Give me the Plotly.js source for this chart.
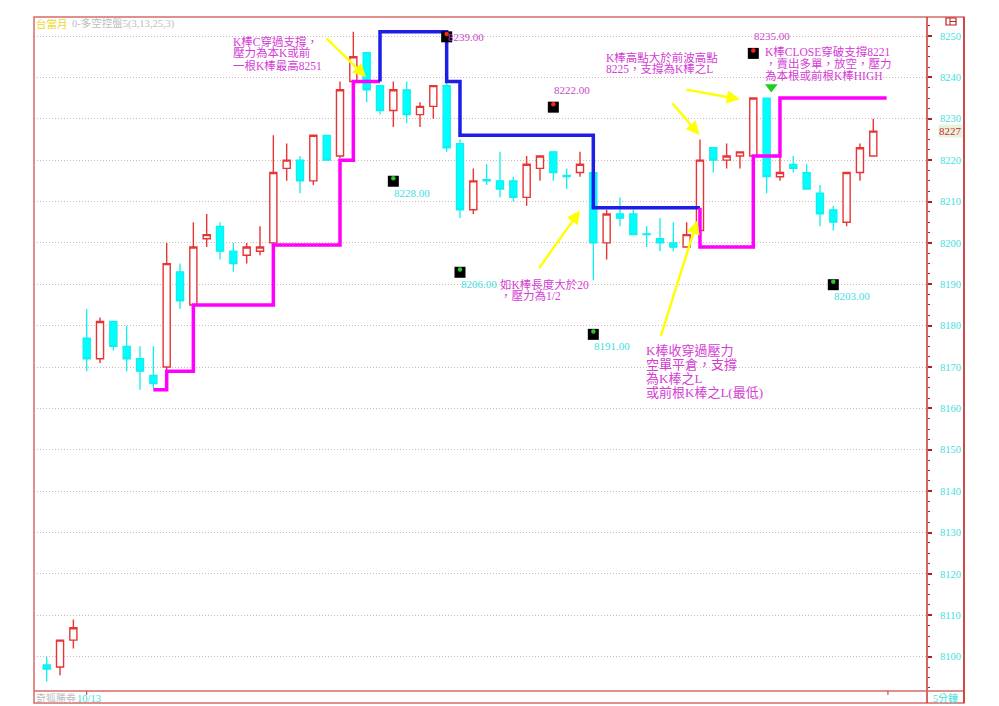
<!DOCTYPE html>
<html>
<head>
<meta charset="utf-8">
<script src="https://cdn.plot.ly/plotly-3.0.1.min.js"></script>
<style>html,body{margin:0;padding:0;background:#fff;}#chart{width:999px;height:706px;}</style>
</head>
<body>
<div id="chart"></div>
<script>
// ---- data ----
const barIndex = [];
for (let i = 0; i < 63; i++) barIndex.push(i);
const openP  = [8098,8097.5,8104,8177,8172,8181,8175,8172,8168,8170,8193,8185,8201,8204,8198,8197,8198,8200,8218,8220,8215,8226,8221,8239,8246,8238,8232,8237,8231,8233,8238,8224,8208,8215.3,8215,8215,8211,8218,8222,8216.3,8217,8217,8200,8207,8207,8202.2,8201,8200,8199,8203,8223,8220,8221,8221,8235,8216,8219,8217,8212,8208,8205,8217,8221];
const highP  = [8100,8104,8109,8184,8182,8181,8180,8175,8175,8200,8195,8205,8207,8205,8200,8200,8204,8226,8224,8221,8226,8226,8239,8251,8246,8238,8239,8239,8234,8238,8239,8225,8218,8219,8222,8216,8221,8221,8222,8218,8222,8217,8208,8211,8208,8204,8206,8205,8205,8225,8223,8224,8222,8235,8235,8221,8221,8219,8214,8209,8217,8224,8230];
const lowP   = [8094,8095.5,8102,8169,8171,8174,8169,8164.5,8164.8,8169,8184,8185,8199,8196,8193,8195,8197,8199.5,8215,8212,8214,8220,8220.5,8239,8234,8231,8228,8229,8228,8230,8222,8206,8207,8214,8211,8210,8209,8215,8215,8213,8216,8191,8196,8204,8202,8199,8198,8198,8199,8202,8217,8218,8218,8221,8212,8215,8217,8213,8204,8203,8204,8215,8221];
const closeP = [8097,8104,8107,8172,8181,8175,8172,8169,8166,8195,8186,8199,8202,8198,8195,8199,8199,8217,8220,8215,8226,8220,8237,8245,8237,8232,8237,8231,8233,8238,8223,8208,8215,8215,8213,8211,8219,8221,8217,8216,8219,8200,8207,8206,8202,8202,8200,8199,8202,8220,8220,8221,8222,8235,8216,8217,8218,8213,8207,8205,8217,8223,8227];

// stop lines (step lines)
const supportX  = [8, 9, 11, 17, 22, 23, 25];
const supportY  = [8164.5, 8169, 8185, 8199.5, 8220, 8239, 8239];
const resistX   = [25, 25, 30, 31, 41, 49];
const resistY   = [8239, 8251, 8239, 8226, 8208.5, 8208.5];
const stop2X    = [49, 49, 53, 55, 63];
const stop2Y    = [8208.5, 8199, 8221, 8235, 8235];

// swing points
const swingIdx  = [26, 30, 31, 38, 41, 53, 59];
const swingVal  = [8228, 8239, 8206, 8222, 8191, 8235, 8203];
const swingKind = ['L', 'H', 'L', 'H', 'L', 'H', 'L'];

// sell signal
const signalIdx = [54];

// tick labels / texts
const yTicks = [8100,8110,8120,8130,8140,8150,8160,8170,8180,8190,8200,8210,8220,8230,8240,8250];
const headerName = '台當月';
const headerInd = '0-多空控盤5(3,13,25,3)';
const footLeft = '奇狐勝券';
const dayLabel = '10/13';
const dayIdx = 3;
const periodLabel = '5分鐘';
const note1 = ['K棒C穿過支撐，', '壓力為本K或前', '一根K棒最高8251'];
const note2 = ['K棒高點大於前波高點', '8225，支撐為K棒之L'];
const note3 = ['K棒CLOSE穿破支撐8221', '，賣出多單，放空，壓力', '為本根或前根K棒HIGH'];
const note4 = ['如K棒長度大於20', '，壓力為1/2'];
const note5 = ['K棒收穿過壓力', '空單平倉，支撐', '為K棒之L', '或前根K棒之L(最低)'];

// ---- geometry ----
const PL = 34, PR = 927, PT = 17, PB = 691;
const pxPerPt = 4.138, pxPerBar = 13.332;
const yTop = 8250 + (36 - PT) / pxPerPt;
const yBot = yTop - (PB - PT) / pxPerPt;
const xLo = -(46.7 - PL) / pxPerBar;
const xHi = xLo + (PR - PL) / pxPerBar;
const px = v => (v - PL) / (PR - PL);
const py = v => (PB - v) / (PB - PT);

const serif = '"Liberation Serif", "Noto Sans CJK TC", serif';
const MAG = '#d43cd4', CYAN = '#3ee0e0';

const traces = [];
traces.push({
  type: 'candlestick', x: barIndex, open: openP, high: highP, low: lowP, close: closeP,
  increasing: {line: {color: '#e83434', width: 1.4}, fillcolor: '#ffffff'},
  decreasing: {line: {color: '#10eeee', width: 1.3}, fillcolor: '#00ffff'},
  whiskerwidth: 0, hoverinfo: 'skip', showlegend: false
});
traces.push({type: 'scatter', mode: 'lines', x: supportX, y: supportY, line: {color: '#ff00ff', width: 3.5, shape: 'hv'}, hoverinfo: 'skip', showlegend: false});
traces.push({type: 'scatter', mode: 'lines', x: resistX, y: resistY, line: {color: '#1e1ee6', width: 3.5, shape: 'hv'}, hoverinfo: 'skip', showlegend: false});
traces.push({type: 'scatter', mode: 'lines', x: stop2X, y: stop2Y, line: {color: '#ff00ff', width: 3.5, shape: 'hv'}, hoverinfo: 'skip', showlegend: false});

// swing squares
const sqY = swingVal.map((v, k) => swingKind[k] === 'H' ? v + 10.8 : v - 13.1);
traces.push({type: 'scatter', mode: 'markers', x: swingIdx, y: sqY,
  marker: {symbol: 'square', size: 11, color: '#000000', line: {width: 0}}, hoverinfo: 'skip', showlegend: false});
traces.push({type: 'scatter', mode: 'markers', x: swingIdx, y: sqY.map(v => v + 0.7),
  marker: {symbol: 'circle', size: 4.5, color: swingKind.map(k => k === 'H' ? '#ff2020' : '#2ec82e')}, hoverinfo: 'skip', showlegend: false});
// sell triangle
traces.push({type: 'scatter', mode: 'markers', x: signalIdx.map(i => i + 0.35), y: signalIdx.map(i => highP[i] + 2.7),
  marker: {symbol: 'triangle-down', size: 11, color: '#22cc22'}, hoverinfo: 'skip', showlegend: false});

const ann = [];
// swing labels
swingIdx.forEach((i, k) => {
  const hi = swingKind[k] === 'H';
  const nearTop = hi && (sqY[k] > yTop - 8);
  ann.push({x: i, y: sqY[k], xref: 'x', yref: 'y', xanchor: 'left', yanchor: 'middle',
    yshift: hi ? (nearTop ? 0 : 17) : -11.5, xshift: -1,
    text: swingVal[k].toFixed(2), showarrow: false,
    font: {family: serif, size: 11, color: hi ? '#c848c8' : CYAN}});
});
// text blocks
function block(lines, x, y, step, size) {
  lines.forEach((t, k) => ann.push({xref: 'paper', yref: 'paper', x: px(x), y: py(y + k * step),
    xanchor: 'left', yanchor: 'middle', text: t, showarrow: false, borderpad: 0,
    font: {family: serif, size: size, color: MAG}}));
}
block(note1, 232, 41, 12, 11.5);
block(note2, 605, 57, 11.5, 11.5);
block(note3, 764, 52, 11.7, 11.5);
block(note4, 499, 284, 11.5, 11.5);
block(note5, 645, 350, 14.2, 13);

// yellow arrows: head in data coords, tail as pixel offset
function arrow(hx, hy, dx, dy) {
  ann.push({x: hx, y: hy, xref: 'x', yref: 'y', ax: dx, ay: dy, axref: 'pixel', ayref: 'pixel',
    text: '', showarrow: true, arrowhead: 2, arrowsize: 1.1, arrowwidth: 2.4, arrowcolor: '#ffff00', standoff: 0});
}
arrow(23.95, 8240.1, -41, -40);
arrow(52.0, 8234.7, -55, -10);
arrow(48.95, 8226.1, -28, -33);
arrow(40.0, 8207.8, -42, 59);
arrow(48.8, 8205.4, -37, 117);

// header / footer
ann.push({xref: 'paper', yref: 'paper', x: px(35), y: py(23.5), xanchor: 'left', yanchor: 'middle', showarrow: false,
  text: headerName, font: {family: serif, size: 10.5, color: '#ecd820'}, borderpad: 0});
ann.push({xref: 'paper', yref: 'paper', x: px(70.5), y: py(23.5), xanchor: 'left', yanchor: 'middle', showarrow: false,
  text: headerInd, font: {family: serif, size: 10.5, color: '#bdbdbd'}, borderpad: 0});
ann.push({xref: 'paper', yref: 'paper', x: px(35), y: py(698), xanchor: 'left', yanchor: 'middle', showarrow: false,
  text: footLeft, font: {family: serif, size: 10, color: '#bdbdbd'}, borderpad: 0});
ann.push({xref: 'paper', yref: 'paper', x: px(75.5), y: py(698), xanchor: 'left', yanchor: 'middle', showarrow: false,
  text: dayLabel, font: {family: serif, size: 10.5, color: CYAN}, borderpad: 0});
ann.push({xref: 'paper', yref: 'paper', x: px(932), y: py(698), xanchor: 'left', yanchor: 'middle', showarrow: false,
  text: periodLabel, font: {family: serif, size: 10, color: CYAN}, borderpad: 0});
// last price tag
ann.push({xref: 'paper', yref: 'y', x: px(963), y: closeP[closeP.length - 1], xanchor: 'right', yanchor: 'middle', showarrow: false,
  text: String(closeP[closeP.length - 1]), bgcolor: '#e6f3de', borderpad: 0,
  font: {family: serif, size: 11, color: '#d02828'}});

const RED = '#cc3030', PINK = '#d86a6a';
const shapes = [
  {type: 'rect', xref: 'paper', yref: 'paper', x0: px(34), x1: px(964), y0: py(703), y1: py(17), line: {color: PINK, width: 1.5}},
  {type: 'line', xref: 'paper', yref: 'paper', x0: px(927), x1: px(927), y0: py(703), y1: py(17), line: {color: RED, width: 1.5}},
  {type: 'line', xref: 'paper', yref: 'paper', x0: px(34), x1: px(964), y0: py(691), y1: py(691), line: {color: PINK, width: 1.5}},
  {type: 'line', xref: 'paper', yref: 'paper', x0: px(964), x1: px(964), y0: py(703), y1: py(17), line: {color: RED, width: 1.5}},
  {type: 'line', xref: 'x', yref: 'paper', x0: dayIdx, x1: dayIdx, y0: py(691), y1: py(695), line: {color: RED, width: 1}},
  {type: 'line', xref: 'x', yref: 'paper', x0: 63.1, x1: 63.1, y0: py(691), y1: py(695), line: {color: RED, width: 1}},
  {type: 'rect', xref: 'paper', yref: 'paper', x0: px(946), x1: px(956), y0: py(25), y1: py(18), line: {color: '#c02020', width: 1.2}},
  {type: 'line', xref: 'paper', yref: 'paper', x0: px(950), x1: px(950), y0: py(25), y1: py(18), line: {color: '#c02020', width: 1}},
  {type: 'line', xref: 'paper', yref: 'paper', x0: px(950), x1: px(956), y0: py(21.5), y1: py(21.5), line: {color: '#c02020', width: 1}}
];

const layout = {
  width: 999, height: 706,
  margin: {l: PL, r: 999 - PR, t: PT, b: 706 - PB, pad: 0},
  paper_bgcolor: '#ffffff', plot_bgcolor: '#ffffff',
  showlegend: false, boxgap: 0.24,
  xaxis: {type: 'linear', range: [xLo, xHi], showgrid: false, zeroline: false, showticklabels: false, ticks: '',
    showline: false, rangeslider: {visible: false}, fixedrange: true},
  yaxis: {side: 'right', range: [yBot, yTop], tickmode: 'array', tickvals: yTicks, ticktext: yTicks.map(String),
    showgrid: true, gridcolor: '#d4b8b8', griddash: '1px,2px', gridwidth: 1, zeroline: false, showline: false,
    ticks: 'outside', ticklen: 4, tickwidth: 2, tickcolor: '#b02020', ticklabelstandoff: 6,
    minor: {dtick: 2.5, tick0: 8100, ticks: 'outside', ticklen: 2, tickwidth: 1, tickcolor: '#b02020', showgrid: false},
    tickfont: {family: serif, size: 10.5, color: CYAN}, fixedrange: true},
  annotations: ann, shapes: shapes
};

Plotly.newPlot('chart', traces, layout, {displayModeBar: false, staticPlot: true});
</script>
</body>
</html>
